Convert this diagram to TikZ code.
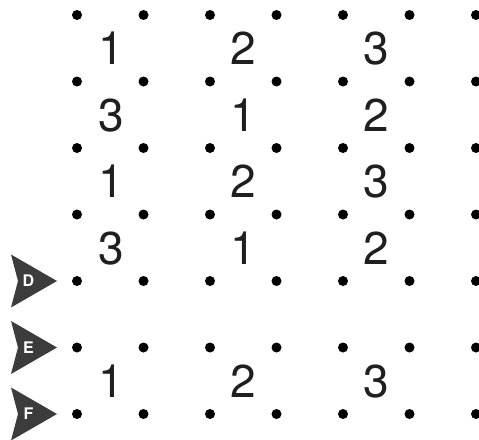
\documentclass[tikz,border=0pt]{standalone}
\usepackage{fontspec}
\setmainfont{TeX Gyre Heros}
\definecolor{tri}{HTML}{3C3C3C}
\begin{document}
\begin{tikzpicture}[x=1pt,y=-1pt,
  dot/.style={circle,fill=black,inner sep=0pt,minimum size=10pt},
  num/.style={anchor=base,inner sep=0pt,font=\fontsize{46}{46}\selectfont,text=black!88},
  lab/.style={inner sep=0pt,font=\fontsize{16}{16}\selectfont\bfseries,text=white}]
\useasboundingbox (0,0) rectangle (479,439);
% dots
\foreach \j in {0,...,6}{
  \foreach \i in {0,...,6}{
    \node[dot] (d-\i-\j) at ({77+66.5*\i},{15+66.5*\j}) {};
  }
}
% numbers
\foreach \band/\a/\b/\c in {0/1/2/3,1/3/1/2,2/1/2/3,3/3/1/2,5/1/2/3}{
  \node[num] (n-\band-0) at (111,{15+66.5*\band+33.25+16.5}) {\a};
  \node[num] (n-\band-1) at (243.5,{15+66.5*\band+33.25+16.5}) {\b};
  \node[num] (n-\band-2) at (376.5,{15+66.5*\band+33.25+16.5}) {\c};
}
% markers
\foreach \j/\t in {4/D,5/E,6/F}{
  \fill[tri] (11,{15+66.5*\j-26.5}) -- (57,{15+66.5*\j}) -- (11,{15+66.5*\j+26.5}) -- (18,{15+66.5*\j}) -- cycle;
  \node[lab] (m-\t) at (28.5,{15+66.5*\j}) {\t};
}
\end{tikzpicture}
\end{document}
